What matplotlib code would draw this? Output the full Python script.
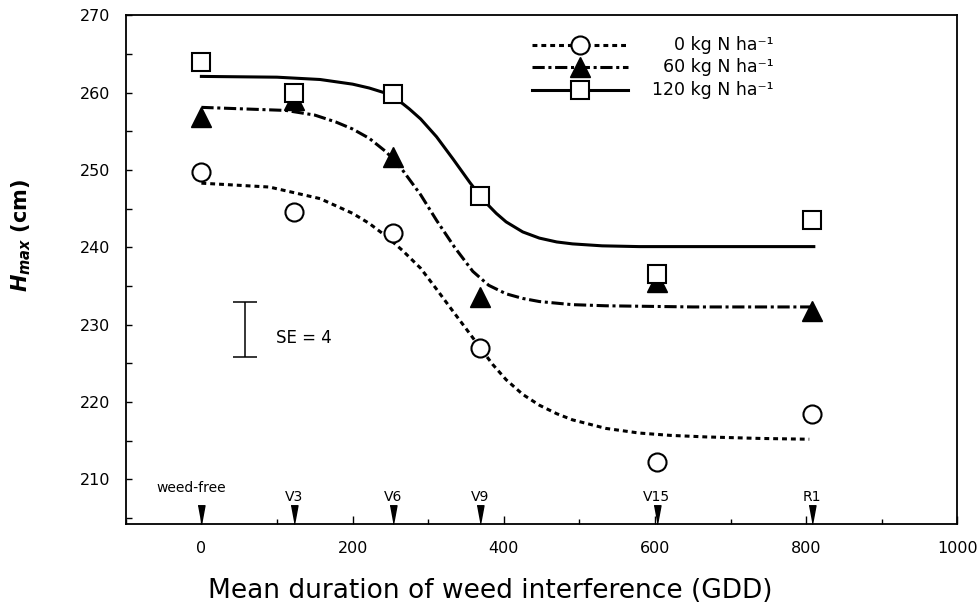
import numpy as np
import matplotlib.pyplot as plt
from matplotlib.ticker import MultipleLocator

plt.rcParams['font.family'] = ['DejaVu Sans']
plt.rcParams['mathtext.fontset'] = 'custom'
plt.rcParams['mathtext.it'] = 'DejaVu Sans:italic:bold'
plt.rcParams['mathtext.rm'] = 'DejaVu Sans:bold'
plt.rcParams['mathtext.bf'] = 'DejaVu Sans:bold'

# Growth stages marked on the x axis
stage_names = ['weed-free', 'V3', 'V6', 'V9', 'V15', 'R1']
stage_gdd = [0, 122, 253, 369, 602, 808]

# Observed H_max (cm) at each stage
obs_0n = [249.8, 244.6, 241.8, 227.0, 212.3, 218.4]
obs_60n = [256.8, 259.0, 251.7, 233.6, 235.5, 231.8]
obs_120n = [263.9, 259.9, 259.8, 246.7, 236.6, 243.6]

# Fitted curves
fit0_x = [0, 90, 157, 200, 222, 245, 266, 290, 311, 330, 350, 369, 385, 403, 425, 447, 470,
          491, 535, 579, 620, 667, 740, 804]
fit0_y = [248.3, 247.8, 246.3, 244.4, 243.1, 241.4, 239.6, 237.3, 234.6, 232.1, 229.5, 227.0,
          224.9, 222.9, 221.0, 219.6, 218.5, 217.7, 216.6, 216.0, 215.7, 215.5, 215.3, 215.2]

fit60_x = [0, 112, 150, 178, 200, 222, 245, 266, 290, 311, 335, 359, 380, 403, 425, 447, 490,
           535, 650, 810]
fit60_y = [258.1, 257.7, 257.1, 256.2, 255.3, 254.1, 252.3, 250.0, 246.8, 243.5, 240.0, 236.9,
           235.1, 234.0, 233.4, 233.0, 232.6, 232.45, 232.3, 232.3]

fit120_x = [0, 100, 157, 200, 222, 245, 266, 275, 290, 311, 333, 355, 366, 377, 390, 403, 425,
            447, 470, 491, 530, 579, 810]
fit120_y = [262.1, 262.0, 261.7, 261.1, 260.6, 259.9, 258.6, 257.9, 256.6, 254.3, 251.4, 248.4,
            247.0, 245.7, 244.4, 243.3, 242.0, 241.2, 240.7, 240.45, 240.2, 240.1, 240.1]

labels = ['0 kg N ha\u207b\u00b9', '60 kg N ha\u207b\u00b9', '120 kg N ha\u207b\u00b9']

# SE bar
se_x, se_y, se_half = 58, 229.4, 3.6

fig = plt.figure(figsize=(9.78, 6.07), dpi=100)
ax = fig.add_axes([0.1286, 0.1362, 0.8504, 0.8386])

lw = 2.2
dot_style = dict(color='black', lw=lw, dashes=(1.6, 1.3))
dashdot_style = dict(color='black', lw=lw, dashes=(4, 1.2, 1, 1.2))
solid_style = dict(color='black', lw=lw)

ax.plot(fit0_x, fit0_y, zorder=2, **dot_style)
ax.plot(fit60_x, fit60_y, zorder=2, **dashdot_style)
ax.plot(fit120_x, fit120_y, zorder=2, **solid_style)

circ = dict(marker='o', ms=13, mfc='white', mec='black', mew=1.5, ls='none')
tri = dict(marker='^', ms=14, mfc='black', mec='black', mew=1, ls='none')
sq = dict(marker='s', ms=13, mfc='white', mec='black', mew=1.5, ls='none')

ax.plot(stage_gdd, obs_0n, zorder=3, **circ)
ax.plot(stage_gdd, obs_60n, zorder=4, **tri)
ax.plot(stage_gdd, obs_120n, zorder=5, **sq)

# legend drawn by hand so the labels are right-aligned
leg_y = [0.942, 0.899, 0.853]
for y, style, mk, lab in zip(leg_y, [dot_style, dashdot_style, solid_style], [circ, tri, sq], labels):
    ax.plot([0.488, 0.604], [y, y], transform=ax.transAxes, zorder=6, **style)
    ax.plot([0.546], [y], transform=ax.transAxes, zorder=7, **mk)
    ax.text(0.779, y, lab, transform=ax.transAxes, ha='right', va='center', fontsize=12.5)

# SE bar
ax.errorbar([se_x], [se_y], yerr=se_half, fmt='none', ecolor='black', elinewidth=1.1,
            capsize=8.6, capthick=1.1)
ax.text(99, se_y - 1.1, 'SE = 4', ha='left', va='center', fontsize=12)

ax.set_xlim(-100, 1000)
ax.set_ylim(204.2, 270)

# stage arrows on the x axis
arrow = [(-0.37, 2.0), (0.37, 2.0), (0.0, 0.0)]
ax.plot(stage_gdd, [204.2] * len(stage_gdd), ls='none', marker=arrow, ms=27, color='black',
        clip_on=False, zorder=8)
for name, g in zip(stage_names, stage_gdd):
    if name == 'weed-free':
        off = (-7, 26)
    else:
        off = (0, 19.5)
    ax.annotate(name, (g, 204.2), xytext=off, textcoords='offset points',
                ha='center', va='center', fontsize=10)

ax.xaxis.set_major_locator(MultipleLocator(200))
ax.xaxis.set_minor_locator(MultipleLocator(100))
ax.yaxis.set_major_locator(MultipleLocator(10))
ax.yaxis.set_minor_locator(MultipleLocator(5))
ax.tick_params(axis='x', which='major', direction='in', length=6, width=1, pad=12, labelsize=11.5)
ax.tick_params(axis='x', which='minor', direction='in', length=3.5, width=1)
ax.tick_params(axis='y', which='both', direction='in', length=4, width=1, pad=11, labelsize=11.5)
ax.tick_params(top=False, right=False, which='both')

for s in ax.spines.values():
    s.set_linewidth(1.3)

ax.set_xlabel('Mean duration of weed interference (GDD)', fontsize=19)
ax.xaxis.set_label_coords(0.438, -0.106)
ax.set_ylabel('$H_{max}$ (cm)', fontsize=15, fontweight='bold')
ax.yaxis.set_label_coords(-0.1116, 0.568)

fig.savefig('out.png', dpi=100)
